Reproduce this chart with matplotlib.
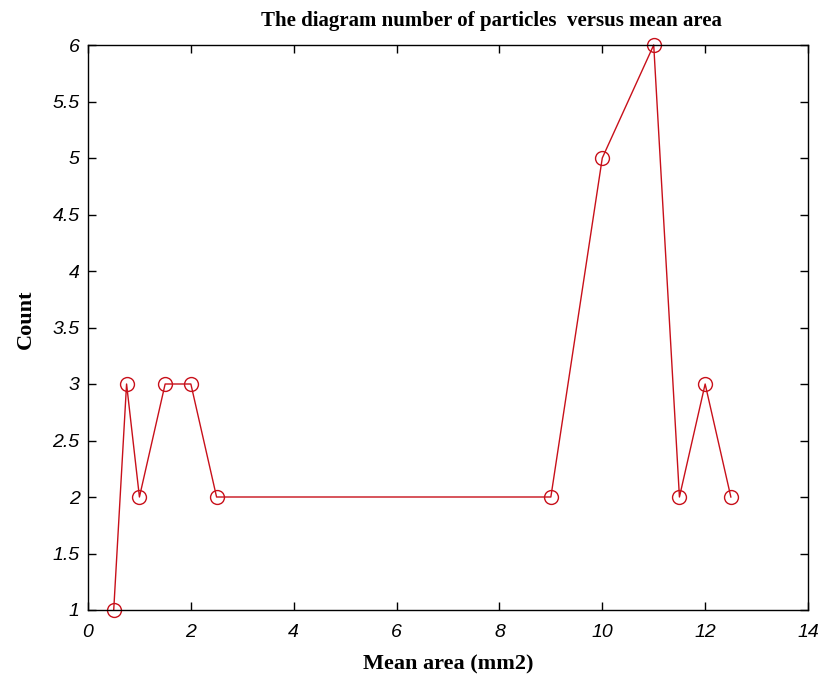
import matplotlib
matplotlib.use("Agg")
import matplotlib.pyplot as plt

mean_area = [0.5, 0.75, 1.0, 1.5, 2.0, 2.5, 9.0, 10.0, 11.0, 11.5, 12.0, 12.5]
count = [1, 3, 2, 3, 3, 2, 2, 5, 6, 2, 3, 2]
x_ticks = [0, 2, 4, 6, 8, 10, 12, 14]
y_ticks = [1, 1.5, 2, 2.5, 3, 3.5, 4, 4.5, 5, 5.5, 6]
y_tick_labels = ["1", "1.5", "2", "2.5", "3", "3.5", "4", "4.5", "5", "5.5", "6"]

fig = plt.figure(figsize=(8.22, 6.8), dpi=100)
ax = fig.add_axes([88/822, 70/680, 720/822, 565/680])
ax.plot(mean_area, count, color="#c8101a", linewidth=1.0, marker="o",
        markersize=10, markerfacecolor="none", markeredgecolor="#c8101a",
        markeredgewidth=1.0, clip_on=False)
ax.set_xlim(0, 14)
ax.set_ylim(1, 6)
ax.set_xticks(x_ticks)
ax.set_yticks(y_ticks)
ax.set_yticklabels(y_tick_labels)
for lab in ax.get_xticklabels() + ax.get_yticklabels():
    lab.set_fontfamily(["Liberation Sans Narrow", "Liberation Sans", "DejaVu Sans"])
    lab.set_fontstyle("italic")
    lab.set_fontsize(14)
ax.tick_params(direction="in", top=True, right=True, length=6, width=1, pad=6)
ax.tick_params(axis="x", pad=10)
for s in ax.spines.values():
    s.set_linewidth(1.0)

serif = ["Liberation Serif", "DejaVu Serif"]
t = ax.set_title("The diagram number of particles  versus mean area", family=serif,
                 fontweight="bold", fontsize=15, pad=14)
t.set_x(0.561)
ax.set_xlabel("Mean area (mm2)", family=serif, fontweight="bold", fontsize=16, labelpad=10)
ax.set_ylabel("Count", family=serif, fontweight="bold", fontsize=16)
ax.yaxis.set_label_coords(-0.072, 0.515)

fig.savefig("out.png", dpi=100, facecolor="white")
